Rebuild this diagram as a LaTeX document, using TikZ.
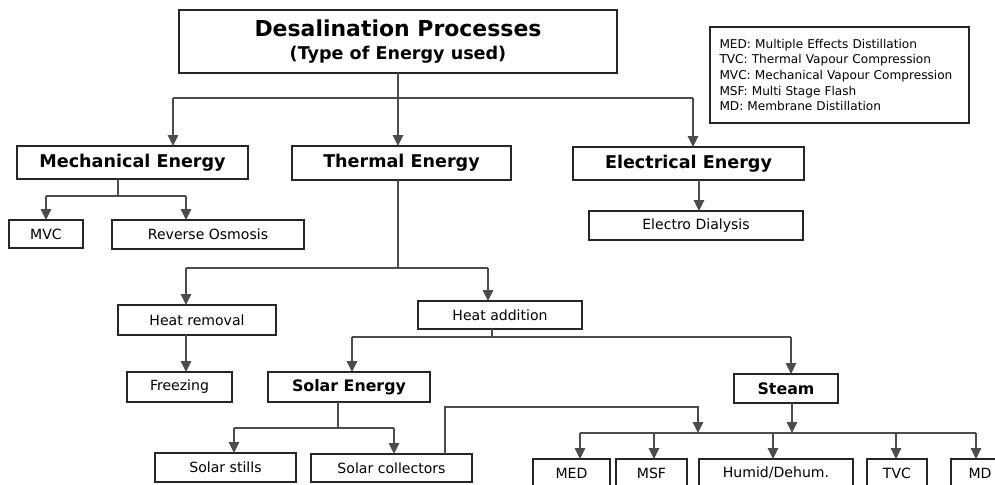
\documentclass[tikz,border=0pt]{standalone}
\usepackage{fontspec}
\setmainfont{DejaVu Sans}
\usetikzlibrary{arrows.meta}

\begin{document}
\begin{tikzpicture}[x=0.02cm, y=-0.02cm,
  every node/.style={align=center, inner sep=0pt, outer sep=0pt},
  box/.style={rectangle, draw=black!85, line width=1.1pt},
  head/.style={box, font=\fontsize{10}{12}\selectfont\bfseries},
  subhead/.style={box, font=\fontsize{9}{11}\selectfont\bfseries},
  item/.style={box, font=\fontsize{8}{10}\selectfont},
  link/.style={draw=black!70, line width=0.65pt},
  arr/.style={link, -{Triangle[width=6pt,length=6.2pt]}}]
\useasboundingbox (0,0) rectangle (995,484);
\clip (0,0) rectangle (995,484);

\node (title) [box, minimum width=8.76cm, minimum height=1.26cm] at (398,41.5) {{\fontsize{12.5}{15}\selectfont\bfseries Desalination Processes}\\[1.5pt]{\fontsize{10}{12}\selectfont\bfseries (Type of Energy used)}};
\node (legend) [box, line width=1pt, minimum width=5.18cm, minimum height=1.92cm, text width=4.8cm, align=left, font=\fontsize{6.9}{8.9}\selectfont] at (839.5,75) {MED: Multiple Effects Distillation\\TVC: Thermal Vapour Compression\\MVC: Mechanical Vapour Compression\\MSF: Multi Stage Flash\\MD: Membrane Distillation};

\node (mech) [head, minimum width=4.62cm, minimum height=0.66cm] at (132.5,162.5) {Mechanical Energy};
\node (therm) [head, minimum width=4.38cm, minimum height=0.68cm] at (401.5,163) {Thermal Energy};
\node (elec) [head, minimum width=4.62cm, minimum height=0.66cm] at (688.5,163.5) {Electrical Energy};

\node (mvc) [item, minimum width=1.48cm, minimum height=0.56cm] at (46,234) {MVC};
\node (ro) [item, minimum width=3.84cm, minimum height=0.58cm] at (208,234.5) {Reverse Osmosis};
\node (ed) [item, minimum width=4.28cm, minimum height=0.58cm] at (696,225.5) {Electro Dialysis};

\node (hrem) [item, minimum width=3.16cm, minimum height=0.6cm] at (197,320) {Heat removal};
\node (hadd) [item, minimum width=3.28cm, minimum height=0.56cm] at (500,315) {Heat addition};
\node (freez) [item, minimum width=2.1cm, minimum height=0.6cm] at (179.5,387) {Freezing};
\node (solar) [subhead, minimum width=3.24cm, minimum height=0.6cm] at (349,387) {Solar Energy};
\node (steam) [subhead, minimum width=2.08cm, minimum height=0.58cm] at (786,388.5) {Steam};

\node (stills) [item, minimum width=2.82cm, minimum height=0.58cm] at (225.5,467.5) {Solar stills};
\node (coll) [item, minimum width=3.22cm, minimum height=0.56cm] at (391.5,468) {Solar collectors};
\node (med) [item, minimum width=1.54cm, minimum height=0.56cm] at (571.5,473) {MED};
\node (msf) [item, minimum width=1.42cm, minimum height=0.56cm] at (651.5,473) {MSF};
\node (humid) [item, minimum width=3.08cm, minimum height=0.56cm] at (776,473) {Humid/Dehum.};
\node (tvc) [item, minimum width=1.2cm, minimum height=0.56cm] at (897,473) {TVC};
\node (md) [item, minimum width=1.16cm, minimum height=0.56cm] at (980,473) {MD};

\coordinate (tbL) at (173,98);
\coordinate (tbC) at (398,98);
\coordinate (tbR) at (693,98);
\draw[link] (title.south) -- (tbC);
\draw[link] (tbL) -- (tbR);
\draw[arr] (tbL) -- (tbL |- mech.north);
\draw[arr] (tbC) -- (tbC |- therm.north);
\draw[arr] (tbR) -- (tbR |- elec.north);

\coordinate (mbC) at (118,196);
\coordinate (mbL) at (46,196);
\coordinate (mbR) at (186,196);
\draw[link] (mbC |- mech.south) -- (mbC);
\draw[link] (mbL) -- (mbR);
\draw[arr] (mbL) -- (mbL |- mvc.north);
\draw[arr] (mbR) -- (mbR |- ro.north);

\coordinate (eb) at (699,196);
\draw[arr] (eb |- elec.south) -- (eb |- ed.north);

\coordinate (thC) at (398,268);
\coordinate (thL) at (186,268);
\coordinate (thR) at (488,268);
\draw[link] (thC |- therm.south) -- (thC);
\draw[link] (thL) -- (thR);
\draw[arr] (thL) -- (thL |- hrem.north);
\draw[arr] (thR) -- (thR |- hadd.north);
\draw[arr] (thL |- hrem.south) -- (thL |- freez.north);

\coordinate (haC) at (492,337);
\coordinate (haL) at (352,337);
\coordinate (haR) at (791,337);
\draw[link] (haC |- hadd.south) -- (haC);
\draw[link] (haL) -- (haR);
\draw[arr] (haL) -- (haL |- solar.north);
\draw[arr] (haR) -- (haR |- steam.north);

\coordinate (soC) at (338,428);
\coordinate (soL) at (234,428);
\coordinate (soR) at (394,428);
\draw[link] (soC |- solar.south) -- (soC);
\draw[link] (soL) -- (soR);
\draw[arr] (soL) -- (soL |- stills.north);
\draw[arr] (soR) -- (soR |- coll.north);

\coordinate (clT) at (445,407);
\coordinate (sbJ) at (698,433);
\coordinate (stJ) at (792,433);
\coordinate (sbL) at (580,433);
\coordinate (sbR) at (976,433);
\draw[arr] (clT |- coll.north) -- (clT) -| (sbJ);
\draw[arr] (stJ |- steam.south) -- (stJ);
\draw[link] (sbL) -- (sbR);
\foreach \n/\x in {med/580, msf/654, humid/773, tvc/896, md/976}
  \draw[arr] (\x,433) -- (\x,433 |- \n.north);
\end{tikzpicture}
\end{document}
